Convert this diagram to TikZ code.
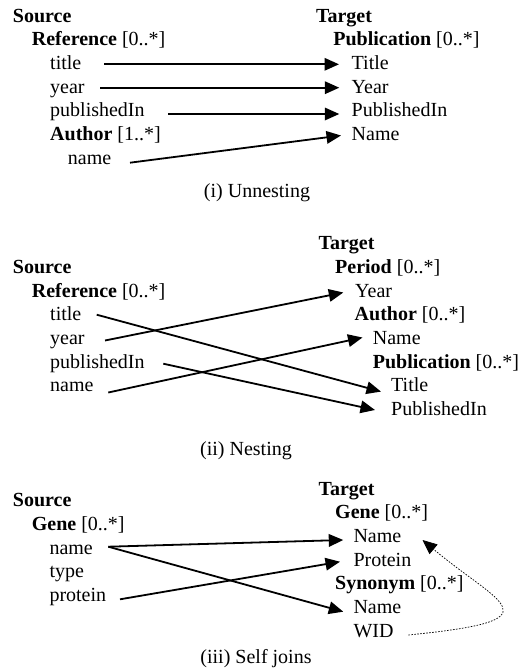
\documentclass[tikz,border=0pt]{standalone}
\usepackage{fontspec}
\setmainfont{Liberation Serif}
\usetikzlibrary{arrows.meta}
\begin{document}
\begin{tikzpicture}[x=1pt,y=-1pt,
  lbl/.style={anchor=base west,inner sep=0pt,font=\fontsize{20}{24}\selectfont},
  captext/.style={anchor=base,inner sep=0pt,font=\fontsize{20}{24}\selectfont},
  conn/.style={line width=1.8pt,-{Triangle[length=14.5pt,width=12.5pt]}},
  link/.style={line width=0.7pt,dash pattern=on 1.6pt off 1.4pt,
    -{Triangle[length=14.5pt,width=12.5pt]}}]
\useasboundingbox (0,0) rectangle (524,672);

% ---------- (i) Unnesting ----------
\node[lbl] (s1)      at (12.7,22)    {\textbf{Source}};
\node[lbl] (s1ref)   at (31.7,45.7)  {\textbf{Reference} [0..*]};
\node[lbl] (s1title) at (50,69.5)    {title};
\node[lbl] (s1year)  at (50,93)      {year};
\node[lbl] (s1pub)   at (50,116.7)   {publishedIn};
\node[lbl] (s1auth)  at (50,140.3)   {\textbf{Author} [1..*]};
\node[lbl] (s1name)  at (67.7,164)   {name};

\node[lbl] (t1)      at (315.8,22)   {\textbf{Target}};
\node[lbl] (t1pubc)  at (333.2,45.7) {\textbf{Publication} [0..*]};
\node[lbl] (t1Title) at (351.5,69.5) {Title};
\node[lbl] (t1Year)  at (351.5,93)   {Year};
\node[lbl] (t1Pub)   at (351.5,116.7){PublishedIn};
\node[lbl] (t1Name)  at (351.5,140.3){Name};

\node[captext] (c1) at (257,197) {(i) Unnesting};

\draw[conn] ([shift={(54.3,-5.2)}]s1title.base west) -- ([shift={(-12.5,-5.2)}]t1Title.base west);
\draw[conn] ([shift={(50,-5.3)}]s1year.base west)    -- ([shift={(-12.2,-5.3)}]t1Year.base west);
\draw[conn] ([shift={(118,-2.7)}]s1pub.base west)    -- ([shift={(-12.2,-2.7)}]t1Pub.base west);
\draw[conn] ([shift={(62.3,-1.3)}]s1name.base west)  -- ([shift={(-10.5,-4.8)}]t1Name.base west);

% ---------- (ii) Nesting ----------
\node[lbl] (s2)      at (12.7,273.3) {\textbf{Source}};
\node[lbl] (s2ref)   at (31.7,297)   {\textbf{Reference} [0..*]};
\node[lbl] (s2title) at (50,320.7)   {title};
\node[lbl] (s2year)  at (50,344.3)   {year};
\node[lbl] (s2pub)   at (50,368)     {publishedIn};
\node[lbl] (s2name)  at (50,391.6)   {name};

\node[lbl] (t2)      at (318.3,249.7){\textbf{Target}};
\node[lbl] (t2per)   at (335,273.3)  {\textbf{Period} [0..*]};
\node[lbl] (t2Year)  at (355,297)    {Year};
\node[lbl] (t2auth)  at (354.5,320.7){\textbf{Author} [0..*]};
\node[lbl] (t2Name)  at (372.7,344.3){Name};
\node[lbl] (t2pubc)  at (372.7,368)  {\textbf{Publication} [0..*]};
\node[lbl] (t2Title) at (391,391.6)  {Title};
\node[lbl] (t2Pub)   at (391,415.3)  {PublishedIn};

\node[captext] (c2) at (246,455) {(ii) Nesting};

\draw[conn] ([shift={(46.7,-6)}]s2title.base west)  -- ([shift={(-10,0)}]t2Title.base west);
\draw[conn] ([shift={(55,-3.8)}]s2year.base west)   -- ([shift={(-11.7,-4.5)}]t2Year.base west);
\draw[conn] ([shift={(113.3,-4.3)}]s2pub.base west) -- ([shift={(-16,-5.3)}]t2Pub.base west);
\draw[conn] ([shift={(58.3,0.9)}]s2name.base west)  -- ([shift={(-10.2,-6.8)}]t2Name.base west);

% ---------- (iii) Self joins ----------
\node[lbl] (s3)      at (12.7,506.7) {\textbf{Source}};
\node[lbl] (s3gene)  at (31.7,530.3) {\textbf{Gene} [0..*]};
\node[lbl] (s3name)  at (49.3,554)   {name};
\node[lbl] (s3type)  at (49.3,577.6) {type};
\node[lbl] (s3prot)  at (49.3,601.3) {protein};

\node[lbl] (t3)      at (318.3,495)  {\textbf{Target}};
\node[lbl] (t3gene)  at (335,518.6)  {\textbf{Gene} [0..*]};
\node[lbl] (t3Name)  at (353.3,542.3){Name};
\node[lbl] (t3Prot)  at (353.3,566)  {Protein};
\node[lbl] (t3syn)   at (335,589.6)  {\textbf{Synonym} [0..*]};
\node[lbl] (t3SName) at (353.3,613.3){Name};
\node[lbl] (t3WID)   at (353.3,637)  {WID};

\node[captext] (c3) at (256,663) {(iii) Self joins};

\draw[conn] ([shift={(59,-7.3)}]s3name.base west)  -- ([shift={(-10,-2.3)}]t3Name.base west);
\draw[conn] ([shift={(59,-7.3)}]s3name.base west)  -- ([shift={(-10,-1.6)}]t3SName.base west);
\draw[conn] ([shift={(70.7,-2)}]s3prot.base west)  -- ([shift={(-13.3,-4.3)}]t3Prot.base west);
\draw[link] ([shift={(55,-2)}]t3WID.base west)
  .. controls (560,620) and (500,605) .. ([shift={(69.2,-2.3)}]t3Name.base west);

\end{tikzpicture}
\end{document}
